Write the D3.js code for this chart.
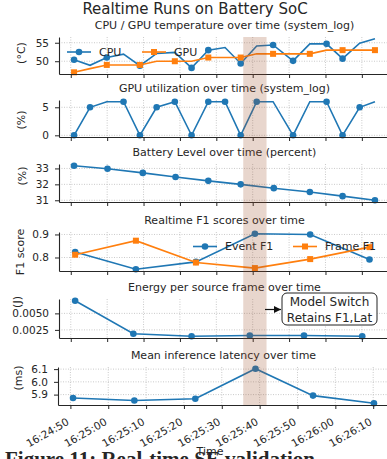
<!DOCTYPE html>
<html lang="en">
<head>
<meta charset="utf-8">
<title>Realtime Runs on Battery SoC</title>
<script src="https://d3js.org/d3.v7.min.js"></script>
<style>
body { margin: 0; background: #fff; }
svg text { font-family: "DejaVu Sans", sans-serif; fill: #262626; }
</style>
</head>
<body>
<div id="chart"></div>
<script>
var width = 387, height = 459;

// all times are seconds after 16:24:50
var base = new Date(2024, 0, 1, 16, 24, 50);
function at(s) { return new Date(base.getTime() + s * 1000); }

// system_log samples
var sysSec   = [0.9, 5.3, 9.9, 14.5, 19.0, 23.6, 28.6, 33.2, 37.8, 42.4, 46.7, 51.1, 55.6, 61.1, 65.7, 70.3, 74.7, 79.4, 83.6];
var cpuTemp  = [50.4, 48.9, 51.0, 51.9, 48.8, 52.1, 52.4, 48.2, 53.0, 53.7, 49.4, 54.1, 54.4, 50.1, 54.7, 54.7, 50.7, 54.9, 56.1];
var gpuTemp  = [47, 48, 49, 49, 49, 50, 50, 50, 51, 51, 51, 52, 52, 52, 52, 53, 53, 53, 53];
var gpuUtil  = [0, 5, 6, 6, 0, 5, 6, 0, 6, 6, 0, 6, 6, 0, 6, 6, 0, 5, 6];
var cpuMarks  = [0, 2, 4, 7, 8, 10, 12, 13, 15, 16];
var gpuMarks  = [0, 2, 4, 6, 8, 10, 12, 14, 16, 18];
var utilMarks = [0, 1, 3, 4, 5, 6, 7, 8, 9, 10, 11, 13, 15, 16, 17];

var battSec = [0.9, 10.1, 19.8, 28.8, 37.8, 46.7, 55.8, 65.7, 74.7, 83.6];
var battery = [33.17, 32.98, 32.72, 32.46, 32.22, 32.0, 31.76, 31.52, 31.26, 31.0];

var f1Sec   = [1.2, 17.9, 34.4, 50.6, 65.8, 82.1];
var eventF1 = [0.824, 0.749, 0.781, 0.903, 0.900, 0.791];
var frameF1 = [0.812, 0.873, 0.778, 0.754, 0.793, 0.845];

var energySec = [1.2, 17.2, 33.2, 49.2, 64.1, 80.1];
var energy    = [0.00691, 0.00191, 0.00154, 0.00164, 0.00164, 0.00154];

var latSec  = [0.7, 16.9, 33.0, 48.9, 64.1, 80.2];
var latency = [5.873, 5.854, 5.868, 6.103, 5.892, 5.832];

var switchSpan = [47.4, 53.8];

var blue = "#1f77b4", orange = "#ff7f0e";

var svg = d3.select("#chart").append("svg")
    .attr("width", width)
    .attr("height", height);

function padExtent(vals) {
    var e = d3.extent(vals), r = e[1] - e[0];
    return [e[0] - 0.05 * r, e[1] + 0.05 * r];
}
function padTime(secs) {
    var e = padExtent(secs);
    return [at(e[0]), at(e[1])];
}

var xTop = d3.scaleTime()
    .domain(padTime(sysSec.concat(battSec, f1Sec, energySec)))
    .range([59, 390]);
var xBottom = d3.scaleTime()
    .domain(padTime(latSec))
    .range([58, 389]);

svg.append("text")
    .attr("x", 195).attr("y", 14)
    .attr("text-anchor", "middle")
    .style("font-size", "15px")
    .text("Realtime Runs on Battery SoC");

function drawMarks(g, pts, color, shape) {
    if (shape == "square") {
        g.selectAll(null).data(pts).enter().append("rect")
            .attr("x", function(d) { return d[0] - 3; })
            .attr("y", function(d) { return d[1] - 3; })
            .attr("width", 6).attr("height", 6)
            .attr("fill", color);
    } else {
        g.selectAll(null).data(pts).enter().append("circle")
            .attr("cx", function(d) { return d[0]; })
            .attr("cy", function(d) { return d[1]; })
            .attr("r", 3.3)
            .attr("fill", color);
    }
}

function panel(p) {
    var g = svg.append("g");
    var x = p.x;
    var allV = [];
    p.series.forEach(function(s) { allV = allV.concat(s.v); });
    var y = d3.scaleLinear().domain(padExtent(allV)).range([p.bottom, p.top]);
    var x0 = x.range()[0], x1 = x.range()[1];
    var xt = x.ticks(d3.timeSecond.every(10));

    // dotted grid
    g.selectAll(null).data(xt).enter().append("line")
        .attr("x1", function(d) { return x(d); }).attr("x2", function(d) { return x(d); })
        .attr("y1", p.top).attr("y2", p.bottom)
        .attr("stroke", "#bdbdbd").attr("stroke-width", 0.8).attr("stroke-dasharray", "1,1.5");
    g.selectAll(null).data(p.yTicks).enter().append("line")
        .attr("x1", x0).attr("x2", x1)
        .attr("y1", function(d) { return y(d); }).attr("y2", function(d) { return y(d); })
        .attr("stroke", "#bdbdbd").attr("stroke-width", 0.8).attr("stroke-dasharray", "1,1.5");

    p.series.forEach(function(s) {
        var pts = s.t.map(function(t, i) { return [x(at(t)), y(s.v[i])]; });
        g.append("path")
            .attr("d", d3.line()(pts))
            .attr("fill", "none")
            .attr("stroke", s.color)
            .attr("stroke-width", 1.6);
        var marked = s.marks ? s.marks.map(function(i) { return pts[i]; }) : pts;
        drawMarks(g, marked, s.color, s.shape);
    });

    // axes
    var ya = g.append("g")
        .attr("transform", "translate(" + x0 + ",0)")
        .call(d3.axisLeft(y).tickValues(p.yTicks).tickFormat(d3.format(p.yFmt))
            .tickSize(4).tickPadding(6).tickSizeOuter(0));
    var xa = g.append("g")
        .attr("transform", "translate(0," + p.bottom + ")")
        .call(d3.axisBottom(x).ticks(d3.timeSecond.every(10))
            .tickFormat(p.xLabels ? d3.timeFormat("%H:%M:%S") : "")
            .tickSize(4).tickSizeOuter(0));
    [ya, xa].forEach(function(a) {
        a.attr("font-family", null).attr("font-size", null);
        a.select(".domain").attr("stroke", "#262626").attr("stroke-width", 1.1);
        a.selectAll(".tick line").attr("stroke", "#262626");
        a.selectAll("text").style("font-size", "10.5px").attr("fill", "#262626");
    });
    if (p.xLabels) {
        xa.selectAll(".tick text")
            .attr("text-anchor", "end")
            .attr("x", -1).attr("y", 19).attr("dy", null)
            .attr("transform", "rotate(-30,-1,19)");
    }

    g.append("text")
        .attr("x", (x0 + x1) / 2).attr("y", p.top - 8)
        .attr("text-anchor", "middle")
        .style("font-size", "11px")
        .text(p.title);
    g.append("text")
        .attr("transform", "translate(" + p.labelPos[0] + "," + p.labelPos[1] + ") rotate(-90)")
        .attr("text-anchor", "middle")
        .attr("dy", "0.35em")
        .style("font-size", "11px")
        .text(p.ylabel);

    if (p.legend) {
        p.legend.forEach(function(l, i) {
            var s = p.series[i];
            var lg = g.append("g");
            lg.append("line")
                .attr("x1", l[0]).attr("x2", l[0] + 24)
                .attr("y1", l[1]).attr("y2", l[1])
                .attr("stroke", s.color).attr("stroke-width", 1.6);
            drawMarks(lg, [[l[0] + 12, l[1]]], s.color, s.shape);
            lg.append("text")
                .attr("x", l[0] + 32).attr("y", l[1])
                .attr("dy", "0.35em")
                .style("font-size", "11px")
                .text(s.name);
        });
    }
    return g;
}

panel({
    top: 37, bottom: 74, x: xTop,
    title: "CPU / GPU temperature over time (system_log)", ylabel: "(°C)", labelPos: [21, 53],
    yTicks: [50, 55], yFmt: "d",
    series: [
        { name: "CPU", t: sysSec, v: cpuTemp, color: blue, shape: "circle", marks: cpuMarks },
        { name: "GPU", t: sysSec, v: gpuTemp, color: orange, shape: "square", marks: gpuMarks }
    ],
    legend: [[67, 52], [142, 52]]
});

panel({
    top: 100, bottom: 137, x: xTop,
    title: "GPU utilization over time (system_log)", ylabel: "(%)", labelPos: [21, 120],
    yTicks: [0, 5], yFmt: "d",
    series: [{ t: sysSec, v: gpuUtil, color: blue, shape: "circle", marks: utilMarks }]
});

panel({
    top: 164, bottom: 202, x: xTop,
    title: "Battery Level over time (percent)", ylabel: "(%)", labelPos: [22, 176],
    yTicks: [31, 32, 33], yFmt: "d",
    series: [{ t: battSec, v: battery, color: blue, shape: "circle" }]
});

panel({
    top: 232, bottom: 271, x: xTop,
    title: "Realtime F1 scores over time", ylabel: "F1 score", labelPos: [20, 252],
    yTicks: [0.8, 0.9], yFmt: ".1f",
    series: [
        { name: "Event F1", t: f1Sec, v: eventF1, color: blue, shape: "circle" },
        { name: "Frame F1", t: f1Sec, v: frameF1, color: orange, shape: "square" }
    ],
    legend: [[193, 246.5], [293, 246.5]]
});

panel({
    top: 299, bottom: 338, x: xTop,
    title: "Energy per source frame over time", ylabel: "(J)", labelPos: [17, 302],
    yTicks: [0.0025, 0.005], yFmt: ".4f",
    series: [{ t: energySec, v: energy, color: blue, shape: "circle" }]
});

panel({
    top: 367, bottom: 405, x: xBottom, xLabels: true,
    title: "Mean inference latency over time", ylabel: "(ms)", labelPos: [18, 378],
    yTicks: [5.9, 6.0, 6.1], yFmt: ".1f",
    series: [{ t: latSec, v: latency, color: blue, shape: "circle" }]
});

svg.append("text")
    .attr("x", 210).attr("y", 455)
    .attr("text-anchor", "middle")
    .style("font-size", "11px")
    .text("Time");

// model switch window, spans every panel
svg.append("rect")
    .attr("x", xTop(at(switchSpan[0])))
    .attr("width", xTop(at(switchSpan[1])) - xTop(at(switchSpan[0])))
    .attr("y", 37).attr("height", 405 - 37)
    .attr("fill", "#a0522d").attr("opacity", 0.24);

// annotation
svg.append("defs").append("marker")
    .attr("id", "head").attr("viewBox", "0 0 10 10")
    .attr("refX", 10).attr("refY", 5)
    .attr("markerWidth", 6).attr("markerHeight", 6)
    .attr("orient", "auto")
    .append("path").attr("d", "M0,0L10,5L0,10z").attr("fill", "#111");
svg.append("line")
    .attr("x1", 265).attr("x2", 281).attr("y1", 309.5).attr("y2", 309.5)
    .attr("stroke", "#111").attr("stroke-width", 1.2)
    .attr("marker-end", "url(#head)");
svg.append("rect")
    .attr("x", 282).attr("y", 293).attr("width", 95).attr("height", 32)
    .attr("rx", 5)
    .attr("fill", "#fff").attr("stroke", "#222").attr("stroke-width", 1);
svg.append("text")
    .attr("x", 329.5).attr("y", 306)
    .attr("text-anchor", "middle")
    .style("font-size", "12px")
    .text("Model Switch");
svg.append("text")
    .attr("x", 329.5).attr("y", 322)
    .attr("text-anchor", "middle")
    .style("font-size", "12px")
    .text("Retains F1,Lat");

// caption of the page, cut by the bottom edge
svg.append("text")
    .attr("x", 5).attr("y", 466)
    .style("font-family", "'Liberation Serif', serif")
    .style("font-weight", "bold")
    .style("font-size", "21px")
    .attr("fill", "#111")
    .text("Figure 11: Real-time SE validation");
</script>
</body>
</html>
